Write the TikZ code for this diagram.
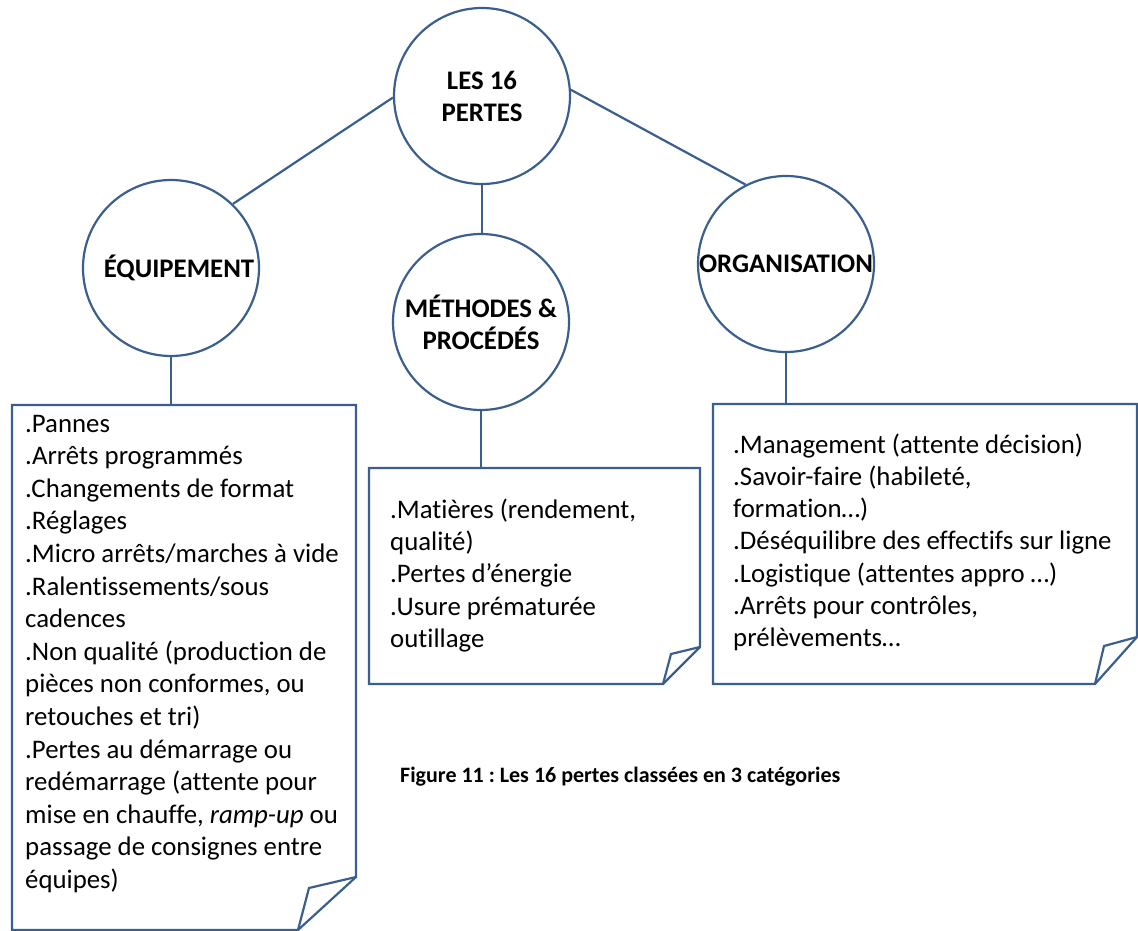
\documentclass[tikz,border=0pt]{standalone}
\usepackage{fontspec}
\setmainfont{Carlito}[Ligatures=NoCommon]
\definecolor{ol}{HTML}{3A5F8E}
\frenchspacing
\begin{document}
\begin{tikzpicture}[x=1pt,y=-1pt,
  circ/.style={circle, draw=ol, line width=2.2pt, minimum size=176pt, inner sep=0pt, align=center, font=\bfseries\fontsize{26.8}{32}\selectfont},
  conn/.style={draw=ol, line width=2.2pt},
  boxline/.style={draw=ol, line width=2.2pt, line join=miter},
  txt/.style={anchor=base west, inner sep=0pt},
  captxt/.style={anchor=base west, inner sep=0pt, font=\bfseries\fontsize{22}{26}\selectfont}]
\useasboundingbox (0,0) rectangle (1138,931);
% circles
\node[circ] (top) at (482,96) {LES 16\\PERTES};
\node[circ] (equip) at (171,268) {\hspace*{16pt}ÉQUIPEMENT};
\node[circ] (meth) at (481,322) {MÉTHODES \&\\PROCÉDÉS};
\node[circ] (orga) at (786,264) {ORGANISATION};
% connectors between circles
\draw[conn] (top.181) -- (equip.46);
\draw[conn] (top.4) -- (orga.117);
\draw[conn] (top.south) -- (top.south |- meth.north);
% boxes
\coordinate (boxL) at (171,405);
\coordinate (boxM) at (481,468);
\coordinate (boxR) at (786,404);
\draw[boxline] (356,877) -- (356,405) -- (12,405) -- (12,930) -- (298,930) -- cycle;
\draw[boxline] (356,877) -- (309,888) -- (298,930);
\draw[boxline] (700,647) -- (700,468) -- (369,468) -- (369,684) -- (663,684) -- cycle;
\draw[boxline] (700,647) -- (671,654) -- (663,684);
\draw[boxline] (1137,637) -- (1137,404) -- (713,404) -- (713,684) -- (1095,684) -- cycle;
\draw[boxline] (1137,637) -- (1104,646) -- (1095,684);
% connectors to boxes
\draw[conn] (equip.south) -- (boxL);
\draw[conn] (meth.south) -- (boxM);
\draw[conn] (orga.south) -- (boxR);
% texts
\node[txt] (tL) at (25,432) {\parbox[t]{340pt}{\fontsize{26.8}{32.6}\selectfont
.Pannes\\
.Arrêts programmés\\
.Changements de format\\
.Réglages\\
.Micro arrêts/marches à vide\\
.Ralentissements/sous\\
cadences\\
.Non qualité (production de\\
pièces non conformes, ou\\
retouches et tri)\\
.Pertes au démarrage ou\\
redémarrage (attente pour\\
mise en chauffe, \textit{ramp-up} ou\\
passage de consignes entre\\
équipes)}};
\node[txt] (tM) at (390,518) {\parbox[t]{310pt}{\fontsize{26.8}{32.4}\selectfont
.Matières (rendement,\\
qualité)\\
.Pertes d’énergie\\
.Usure prématurée\\
outillage}};
\node[txt] (tR) at (733,453) {\parbox[t]{400pt}{\fontsize{26.8}{32.3}\selectfont
.Management (attente décision)\\
.Savoir-faire (habileté,\\
formation…)\\
.Déséquilibre des effectifs sur ligne\\
.Logistique (attentes appro …)\\
.Arrêts pour contrôles,\\
prélèvements…}};
\node[captxt] (caption) at (400,782) {Figure 11 : Les 16 pertes classées en 3 catégories};
\end{tikzpicture}
\end{document}
